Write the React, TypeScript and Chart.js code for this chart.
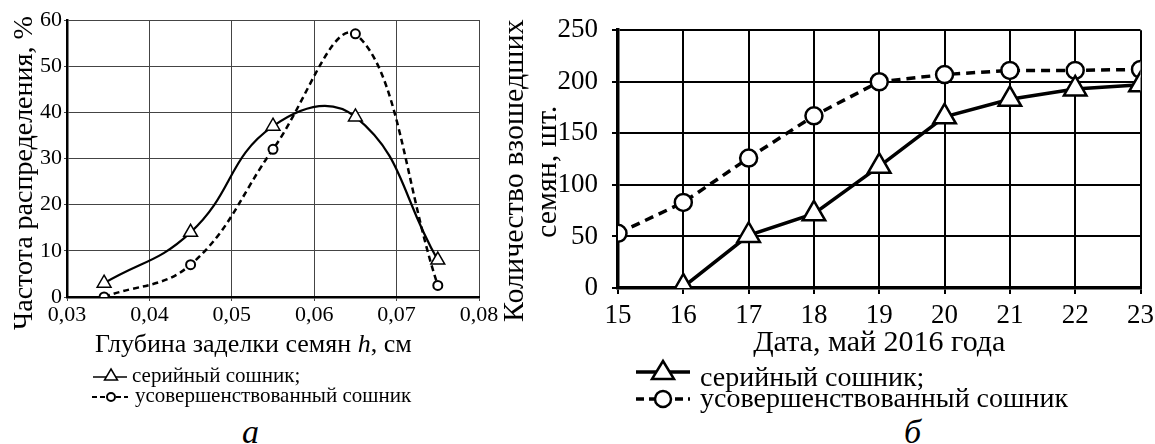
import React, { useEffect, useRef } from 'react';
import { Chart, registerables } from 'chart.js';

Chart.register(...registerables);

// ---- panel a: distribution of seed depth ----
const depthValues = [0.0345, 0.045, 0.055, 0.065, 0.075];
const serialFreq = [3, 14, 37, 39, 8];
const improvedFreq = [0, 7, 32, 57, 2.5];
const depthMin = 0.03;
const depthMax = 0.08;
const depthStep = 0.01;
const freqMin = 0;
const freqMax = 60;
const freqStep = 10;

// ---- panel б: emerged seedlings by date ----
const days = [15, 16, 17, 18, 19, 20, 21, 22, 23];
const serialCount = [null, 1, 51, 72, 118, 166, 183, 193, 197];
const improvedCount = [53, 83, 126, 167, 200, 207, 211, 211, 212];
const countMin = 0;
const countMax = 250;
const countStep = 50;

const LABEL_A_X = 'Глубина заделки семян ';
const LABEL_A_Y = 'Частота распределения, %';
const LABEL_B_X = 'Дата, май 2016 года';
const LABEL_B_Y = ['Количество взошедших', 'семян, шт.'];
const SERIES_1 = 'серийный сошник;';
const SERIES_2 = 'усовершенствованный сошник';

const FONT = "'Liberation Serif', 'DejaVu Serif', serif";

export default function App() {
  const refA = useRef<HTMLCanvasElement | null>(null);
  const refB = useRef<HTMLCanvasElement | null>(null);

  useEffect(() => {
    const charts: Chart[] = [];
    if (refA.current) {
      charts.push(
        new Chart(refA.current, {
          type: 'line',
          data: {
            datasets: [
              {
                label: SERIES_1,
                data: depthValues.map((x, i) => ({ x, y: serialFreq[i] })),
                borderColor: '#000',
                borderWidth: 2.2,
                tension: 0.45,
                pointStyle: 'triangle',
                pointRadius: 8,
                pointBackgroundColor: '#fff',
                pointBorderColor: '#000',
                pointBorderWidth: 1.5,
              },
              {
                label: SERIES_2,
                data: depthValues.map((x, i) => ({ x, y: improvedFreq[i] })),
                borderColor: '#000',
                borderWidth: 2.5,
                borderDash: [6, 4],
                tension: 0.4,
                pointStyle: 'circle',
                pointRadius: 4.5,
                pointBackgroundColor: '#fff',
                pointBorderColor: '#000',
                pointBorderWidth: 2,
              },
            ],
          },
          options: {
            responsive: false,
            animation: false,
            layout: { padding: { top: 20, right: 21, left: 0, bottom: 0 } },
            plugins: { legend: { display: false }, tooltip: { enabled: false } },
            scales: {
              x: {
                type: 'linear',
                min: depthMin,
                max: depthMax,
                ticks: {
                  stepSize: depthStep,
                  autoSkip: false,
                  maxRotation: 0,
                  color: '#000',
                  padding: 1,
                  font: { family: FONT, size: 22 },
                  callback: (v: any) => Number(v).toFixed(2).replace('.', ','),
                },
                grid: { color: '#444', lineWidth: 1, tickLength: 4 },
                border: { color: '#000', width: 2.5 },
                afterFit: (s: any) => {
                  s.height = 33;
                },
              },
              y: {
                min: freqMin,
                max: freqMax,
                ticks: {
                  stepSize: freqStep,
                  color: '#000',
                  padding: 2,
                  font: { family: FONT, size: 22 },
                },
                grid: { color: '#444', lineWidth: 1, tickLength: 3 },
                border: { color: '#000', width: 2.5 },
                afterFit: (s: any) => {
                  s.width = 67;
                },
              },
            },
          },
        } as any)
      );
    }
    if (refB.current) {
      const serialPts: { x: number; y: number }[] = [];
      days.forEach((d, i) => {
        const v = serialCount[i];
        if (v !== null) serialPts.push({ x: d, y: v });
      });
      charts.push(
        new Chart(refB.current, {
          type: 'line',
          data: {
            datasets: [
              {
                label: SERIES_1,
                data: serialPts,
                borderColor: '#000',
                borderWidth: 3.5,
                tension: 0,
                pointStyle: 'triangle',
                pointRadius: 13,
                pointBackgroundColor: '#fff',
                pointBorderColor: '#000',
                pointBorderWidth: 2.5,
              },
              {
                label: SERIES_2,
                data: days.map((d, i) => ({ x: d, y: improvedCount[i] })),
                borderColor: '#000',
                borderWidth: 3.5,
                borderDash: [9, 6],
                tension: 0,
                pointStyle: 'circle',
                pointRadius: 8.5,
                pointBackgroundColor: '#fff',
                pointBorderColor: '#000',
                pointBorderWidth: 2.5,
              },
            ],
          },
          options: {
            responsive: false,
            animation: false,
            layout: { padding: { top: 25, right: 17, left: 0, bottom: 0 } },
            plugins: { legend: { display: false }, tooltip: { enabled: false } },
            scales: {
              x: {
                type: 'linear',
                min: days[0],
                max: days[days.length - 1],
                ticks: {
                  stepSize: 1,
                  autoSkip: false,
                  maxRotation: 0,
                  color: '#000',
                  padding: 6,
                  font: { family: FONT, size: 27 },
                },
                grid: { color: '#000', lineWidth: 2, tickLength: 6 },
                border: { color: '#000', width: 3.5 },
                title: {
                  display: true,
                  text: LABEL_B_X,
                  color: '#000',
                  font: { family: FONT, size: 30, lineHeight: 1.0 },
                  padding: { top: 0, bottom: 22 },
                },
                afterFit: (s: any) => {
                  s.height = 92;
                },
              },
              y: {
                min: countMin,
                max: countMax,
                ticks: {
                  stepSize: countStep,
                  color: '#000',
                  padding: 14,
                  font: { family: FONT, size: 27 },
                },
                grid: { color: '#000', lineWidth: 2, tickLength: 6 },
                border: { color: '#000', width: 3.5 },
                afterFit: (s: any) => {
                  s.width = 128;
                },
              },
            },
          },
        } as any)
      );
    }
    return () => charts.forEach((c) => c.destroy());
  }, []);

  const abs = (left: number, top: number, size: number, extra: any = {}) => ({
    position: 'absolute' as const,
    left,
    top,
    fontSize: size,
    lineHeight: 1,
    whiteSpace: 'nowrap' as const,
    color: '#000',
    ...extra,
  });

  const vertical = (left: number, top: number, width: number, height: number, size: number, lh: number) => ({
    position: 'absolute' as const,
    left,
    top,
    width,
    height,
    fontSize: size,
    lineHeight: `${lh}px`,
    writingMode: 'vertical-rl' as const,
    transform: 'rotate(180deg)',
    textAlign: 'center' as const,
    whiteSpace: 'nowrap' as const,
    color: '#000',
  });

  return (
    <div
      style={{
        position: 'absolute',
        left: 0,
        top: 0,
        width: 1155,
        height: 444,
        overflow: 'hidden',
        background: '#fff',
        fontFamily: FONT,
      }}
    >
      <canvas
        ref={refA}
        width={500}
        height={330}
        style={{ position: 'absolute', left: 0, top: 0, width: 500, height: 330 }}
      />
      <canvas
        ref={refB}
        width={670}
        height={380}
        style={{ position: 'absolute', left: 490, top: 0, width: 670, height: 380 }}
      />

      {/* panel a: axis titles and legend */}
      <div style={vertical(9, 13, 28, 320, 28, 28)}>{LABEL_A_Y}</div>
      <div style={abs(95, 331, 26)}>
        {LABEL_A_X}
        <i>h</i>, см
      </div>
      <svg style={{ position: 'absolute', left: 93, top: 366 }} width={36} height={20}>
        <line x1={0} y1={11} x2={34} y2={11} stroke="#000" strokeWidth={1.6} />
        <polygon points="18,3 24.5,14 11.5,14" fill="#fff" stroke="#000" strokeWidth={1.5} />
      </svg>
      <div style={abs(132, 364.5, 21)}>{SERIES_1}</div>
      <svg style={{ position: 'absolute', left: 92, top: 387 }} width={38} height={20}>
        <line x1={0} y1={10} x2={36} y2={10} stroke="#000" strokeWidth={2} strokeDasharray="5,3" />
        <circle cx={19} cy={10} r={4} fill="#fff" stroke="#000" strokeWidth={2} />
      </svg>
      <div style={abs(135, 384.5, 21)}>{SERIES_2}</div>
      <div style={abs(242, 414.5, 34, { fontStyle: 'italic' })}>а</div>

      {/* panel б: axis title and legend */}
      <div style={vertical(495.5, 22, 66, 300, 30, 33)}>
        {LABEL_B_Y[0]}
        <br />
        {LABEL_B_Y[1]}
      </div>
      <svg style={{ position: 'absolute', left: 636, top: 358 }} width={54} height={28}>
        <line x1={0} y1={14} x2={54} y2={14} stroke="#000" strokeWidth={3.5} />
        <polygon points="27,3 38,21 16,21" fill="#fff" stroke="#000" strokeWidth={2.5} />
      </svg>
      <div style={abs(700, 362.5, 28)}>{SERIES_1}</div>
      <svg style={{ position: 'absolute', left: 636, top: 385 }} width={54} height={28}>
        <line x1={0} y1={14} x2={54} y2={14} stroke="#000" strokeWidth={3.5} strokeDasharray="8,5" />
        <circle cx={27} cy={14} r={8} fill="#fff" stroke="#000" strokeWidth={2.5} />
      </svg>
      <div style={abs(700, 383.5, 28)}>{SERIES_2}</div>
      <div style={abs(904, 414.5, 34, { fontStyle: 'italic' })}>б</div>
    </div>
  );
}
